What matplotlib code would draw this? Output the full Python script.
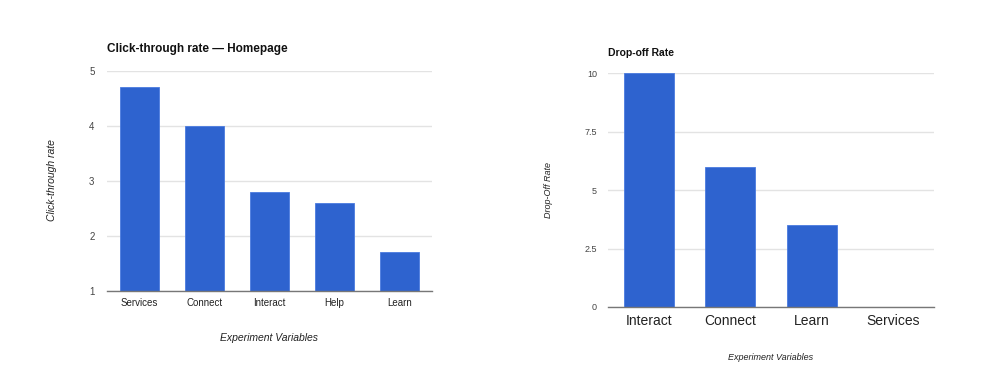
import matplotlib
matplotlib.use("Agg")
import matplotlib.pyplot as plt

plt.rcParams['font.family'] = ['Liberation Sans', 'DejaVu Sans']

ctr_categories = ["Services", "Connect", "Interact", "Help", "Learn"]
ctr_values = [4.7, 4.0, 2.8, 2.6, 1.7]
ctr_yticks = [1, 2, 3, 4, 5]

drop_categories = ["Interact", "Connect", "Learn", "Services"]
drop_values = [10, 6, 3.5, 0]
drop_yticks = [0, 2.5, 5, 7.5, 10]
drop_yticklabels = ["0", "2.5", "5", "7.5", "10"]

BAR = '#2e63cf'
GRID = '#e3e3e3'
BASE = '#777777'

fig = plt.figure(figsize=(9.84, 3.85), dpi=100)

def style(ax):
    for s in ['top', 'right', 'left']:
        ax.spines[s].set_visible(False)
    ax.spines['bottom'].set_color(BASE)
    ax.spines['bottom'].set_linewidth(1.0)
    ax.tick_params(length=0)
    ax.yaxis.grid(True, color=GRID, linewidth=1.0)
    ax.set_axisbelow(True)

# Left chart
ax1 = fig.add_axes([107/984, 1 - 290.7/385, 325/984, 220/385])
x1 = range(len(ctr_categories))
ax1.bar(x1, ctr_values, width=0.615, color=BAR, edgecolor='#4a7be0', linewidth=0.6)
ax1.set_xlim(-0.5, len(ctr_categories) - 0.5)
ax1.set_ylim(1, 5)
ax1.set_yticks(ctr_yticks)
ax1.set_xticks(list(x1))
ax1.set_xticklabels(ctr_categories, fontsize=7, color='#222222')
ax1.tick_params(axis='y', labelsize=7, labelcolor='#444444', pad=9)
ax1.tick_params(axis='x', pad=5)
style(ax1)
ax1.set_ylabel("Click-through rate", fontsize=7.5, style='italic', color='#222222')
ax1.yaxis.set_label_coords(-0.155, 0.503)
ax1.set_xlabel("Experiment Variables", fontsize=7.5, style='italic', color='#222222')
ax1.xaxis.set_label_coords(0.498, -0.192)
fig.text(107/984, 1 - 49/385, "Click-through rate \u2014 Homepage", fontsize=8.5,
         fontweight='bold', ha='left', va='center', color='#111111')

# Right chart
ax2 = fig.add_axes([608/984, 1 - 307/385, 326/984, 233.7/385])
x2 = range(len(drop_categories))
ax2.bar(x2, drop_values, width=0.61, color=BAR, edgecolor='#4a7be0', linewidth=0.6)
ax2.set_xlim(-0.5, len(drop_categories) - 0.5)
ax2.set_ylim(0, 10)
ax2.set_yticks(drop_yticks)
ax2.set_yticklabels(drop_yticklabels)
ax2.set_xticks(list(x2))
ax2.set_xticklabels(drop_categories, fontsize=10, color='#222222')
ax2.tick_params(axis='y', labelsize=6.5, labelcolor='#444444', pad=8)
ax2.tick_params(axis='x', pad=5)
style(ax2)
ax2.set_ylabel("Drop-Off Rate", fontsize=6.5, style='italic', color='#222222')
ax2.yaxis.set_label_coords(-0.17, 0.50)
ax2.set_xlabel("Experiment Variables", fontsize=6.5, style='italic', color='#222222')
ax2.xaxis.set_label_coords(0.5, -0.197)
fig.text(608/984, 1 - 53/385, "Drop-off Rate", fontsize=7.5,
         fontweight='bold', ha='left', va='center', color='#111111')

fig.savefig("out.png", dpi=100, facecolor='white')
